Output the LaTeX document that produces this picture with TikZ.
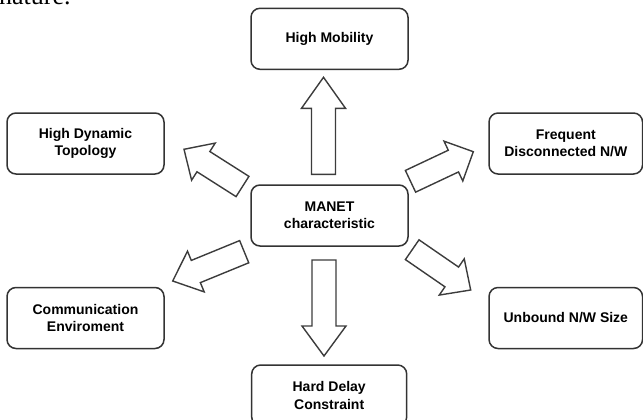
\documentclass[tikz,border=0pt]{standalone}
\usepackage{fontspec}
\setmainfont{Liberation Sans}
\newfontfamily\natfont{Liberation Serif}
\usetikzlibrary{calc}
\definecolor{boxline}{RGB}{51,51,51}
\definecolor{arrline}{RGB}{60,60,60}
\tikzset{
  box/.style={draw=boxline, line width=1.5pt, rounded corners=9pt,
    minimum width=157pt, minimum height=61pt, inner sep=0pt, align=center,
    font=\bfseries\fontsize{14}{17.5}\selectfont},
  blk/.style={draw=arrline, line width=1.4pt, fill=white, line join=miter},
}
% #1 tail, #2 tip, #3 head length
\newcommand\blockarrow[3]{%
  \coordinate (ba-h) at ($(#2)!#3!(#1)$);
  \draw[blk] ($(#1)!12pt!90:(#2)$) -- ($(ba-h)!12pt!90:(#2)$)
    -- ($(ba-h)!22pt!90:(#2)$) -- (#2) -- ($(ba-h)!22pt!-90:(#2)$)
    -- ($(ba-h)!12pt!-90:(#2)$) -- ($(#1)!12pt!-90:(#2)$) -- cycle;
}
\begin{document}
\begin{tikzpicture}[x=1pt,y=-1pt]
\useasboundingbox (0,0) rectangle (643,420);
\clip (0,0) rectangle (643,420);
\node[font=\natfont\fontsize{26}{30}\selectfont, anchor=base west, inner sep=0pt] (nat) at (-1,4.5) {nature.};

\node[box] (hm) at (329.5,38.8) {High Mobility};
\node[box] (hdt) at (85.5,143.5) {High Dynamic\\Topology};
\node[box, minimum width=153.5pt] (fdn) at (565.8,143.5) {Frequent\\Disconnected N/W};
\node[box] (manet) at (329.5,215.5) {MANET\\characteristic};
\node[box] (ce) at (85.5,318) {Communication\\Enviroment};
\node[box, minimum width=153.5pt] (ubs) at (565.8,318) {Unbound N/W Size};
\node[box, minimum width=155pt] (hdc) at (329.2,395.5) {Hard Delay\\Constraint};

\coordinate (t1) at (323.5,174.3); \coordinate (p1) at (323.5,77.3);
\coordinate (t2) at (324,260);     \coordinate (p2) at (324,356);
\coordinate (t3) at (242.5,186.5); \coordinate (p3) at (184,149.3);
\coordinate (t4) at (410.5,181.3); \coordinate (p4) at (473.3,151.7);
\coordinate (t5) at (244.2,251.7); \coordinate (p5) at (172.7,281);
\coordinate (t6) at (412.2,249.7); \coordinate (p6) at (470.7,290);

\blockarrow{t1}{p1}{31pt}
\blockarrow{t2}{p2}{30pt}
\blockarrow{t3}{p3}{23pt}
\blockarrow{t4}{p4}{22pt}
\blockarrow{t5}{p5}{25pt}
\blockarrow{t6}{p6}{23pt}
\end{tikzpicture}
\end{document}
